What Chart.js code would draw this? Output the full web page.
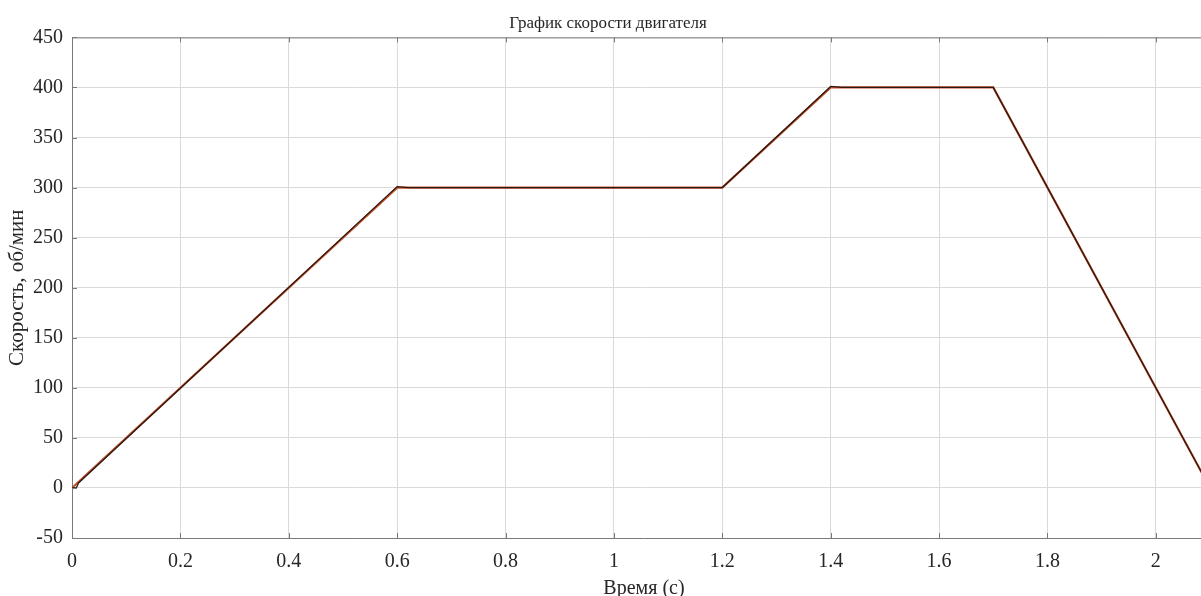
<!DOCTYPE html>
<html>
<head>
<meta charset="utf-8">
<script src="https://cdn.jsdelivr.net/npm/chart.js@4"></script>
<style>
  html, body { margin: 0; padding: 0; background: #fff; overflow: hidden; }
  canvas { display: block; }
</style>
</head>
<body>
<canvas id="chart" width="1216" height="596"></canvas>
<script>
// уставка скорости (задание)
const refTime = [0, 0.6, 1.2, 1.4, 1.7, 2.1];
const refSpeed = [0, 300, 300, 400, 400, 0];
// фактическая скорость двигателя
const motorTime = [0, 0.008, 0.012, 0.6, 0.62, 1.2, 1.4, 1.42, 1.7, 2.1];
const motorSpeed = [0, 0, 5, 301, 300, 300, 401, 400, 400, 0];

const yTicks = [-50, 0, 50, 100, 150, 200, 250, 300, 350, 400, 450];
const xTicks = [0, 0.2, 0.4, 0.6, 0.8, 1, 1.2, 1.4, 1.6, 1.8, 2];

const serif = "'Liberation Serif', 'Times New Roman', serif";
const axisColor = "#7a7a7a";

const toPoints = (xs, ys) => xs.map((x, i) => ({ x: x, y: ys[i] }));

// верхняя рамка и короткие риски внутрь осей
const axesFrame = {
    id: "axesFrame",
    afterDraw(chart) {
        const { ctx, chartArea, scales } = chart;
        const len = 5;
        ctx.save();
        ctx.strokeStyle = axisColor;
        ctx.lineWidth = 1;
        ctx.beginPath();
        ctx.moveTo(chartArea.left, chartArea.top + 0.5);
        ctx.lineTo(chartArea.right, chartArea.top + 0.5);
        yTicks.forEach(v => {
            const y = Math.round(scales.y.getPixelForValue(v)) + 0.5;
            ctx.moveTo(chartArea.left, y);
            ctx.lineTo(chartArea.left + len, y);
        });
        xTicks.forEach(v => {
            const x = Math.round(scales.x.getPixelForValue(v)) + 0.5;
            ctx.moveTo(x, chartArea.bottom);
            ctx.lineTo(x, chartArea.bottom - len);
            ctx.moveTo(x, chartArea.top);
            ctx.lineTo(x, chartArea.top + len);
        });
        ctx.stroke();
        ctx.restore();
    }
};

new Chart(document.getElementById("chart").getContext("2d"), {
    type: "line",
    data: {
        datasets: [
            {
                data: toPoints(motorTime, motorSpeed),
                borderColor: "#2a1a14",
                borderWidth: 1.3,
                pointRadius: 0,
                tension: 0
            },
            {
                data: toPoints(refTime, refSpeed),
                borderColor: "#c8502a",
                borderWidth: 2.2,
                pointRadius: 0,
                tension: 0
            }
        ]
    },
    options: {
        responsive: false,
        animation: false,
        layout: { padding: 0 },
        plugins: {
            legend: { display: false },
            tooltip: { enabled: false },
            title: {
                display: true,
                text: "График скорости двигателя",
                color: "#262626",
                font: { family: serif, size: 17, weight: "normal" },
                padding: { top: 13, bottom: 4 }
            }
        },
        scales: {
            x: {
                type: "linear",
                min: 0,
                max: 2.111,
                afterBuildTicks: (scale) => {
                    scale.ticks = xTicks.map(v => ({ value: v }));
                },
                afterFit: (scale) => { scale.height = 58; },
                ticks: {
                    color: "#262626",
                    font: { family: serif, size: 20 },
                    padding: 12,
                    maxRotation: 0,
                    callback: (v) => String(v)
                },
                grid: { color: "#dadada", drawTicks: false },
                border: { color: axisColor },
                title: {
                    display: true,
                    text: "Время (с)",
                    color: "#262626",
                    font: { family: serif, size: 20 },
                    padding: { top: 0, bottom: -5 }
                }
            },
            y: {
                type: "linear",
                min: -50,
                max: 450,
                afterBuildTicks: (scale) => {
                    scale.ticks = yTicks.map(v => ({ value: v }));
                },
                afterFit: (scale) => { scale.width = 72; },
                ticks: {
                    color: "#262626",
                    font: { family: serif, size: 20 },
                    padding: 9
                },
                grid: { color: "#dadada", drawTicks: false },
                border: { color: axisColor },
                title: {
                    display: true,
                    text: "Скорость, об/мин",
                    color: "#262626",
                    font: { family: serif, size: 21 },
                    padding: { top: 5, bottom: 0 }
                }
            }
        }
    },
    plugins: [axesFrame]
});
</script>
</body>
</html>
